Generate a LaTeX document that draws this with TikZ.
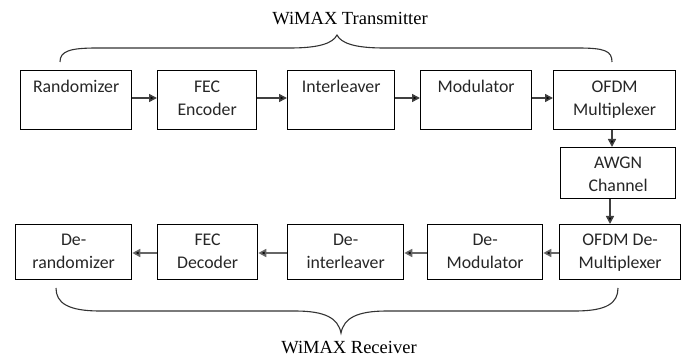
\documentclass[tikz,border=0pt]{standalone}
\usepackage{fontspec}
\setmainfont{Liberation Serif}
\newfontfamily\boxfont{Carlito}
\usetikzlibrary{arrows.meta,calc}
\begin{document}
\begin{tikzpicture}[x=1pt,y=-1pt,
  blk/.style={draw=black,line width=1.3pt,minimum width=#1,minimum height=57pt,inner sep=0pt,anchor=north west},
  txt/.style={font=\boxfont\fontsize{17.8}{23}\selectfont,text=black!85,align=center,anchor=base,inner sep=0pt},
  arr/.style={line width=1.6pt,draw=black!75,-{Triangle[length=8pt,width=8pt,fill=black]}},
  brc/.style={line width=1.1pt,draw=black!80},
  ttl/.style={font=\fontsize{18.5}{22}\selectfont,anchor=base,inner sep=0pt}]
\useasboundingbox (0,0) rectangle (689,358);
% top row
\node[blk=111pt,minimum height=59pt] (rand) at (20,70) {};
\node[blk=99pt,minimum height=59pt] (fec) at (157,70) {};
\node[blk=107pt,minimum height=59pt] (intl) at (287,70) {};
\node[blk=111pt,minimum height=59pt] (mod) at (420,70) {};
\node[blk=122pt,minimum height=59pt] (ofdm) at (553,70) {};
\node[txt] (randT) at ($(rand.north)+(0,23)$) {Randomizer};
\node[txt] (fecT) at ($(fec.north)+(0,46)$) {FEC\\Encoder};
\node[txt] (intlT) at ($(intl.north)+(0,23)$) {Interleaver};
\node[txt] (modT) at ($(mod.north)+(0,23)$) {Modulator};
\node[txt] (ofdmT) at ($(ofdm.north)+(0,46)$) {OFDM\\Multiplexer};
% channel
\node[blk=115pt,minimum height=51pt] (awgn) at (560,147) {};
\node[txt] (awgnT) at ($(awgn.north)+(0,45)$) {AWGN\\Channel};
% bottom row
\node[blk=116pt,minimum height=55pt] (derand) at (15,224) {};
\node[blk=100pt,minimum height=55pt] (fecd) at (157,224) {};
\node[blk=116pt,minimum height=55pt] (deintl) at (287,224) {};
\node[blk=115pt,minimum height=55pt] (demod) at (427,224) {};
\node[blk=121pt,minimum height=55pt] (ofdmd) at (559,224) {};
\node[txt] (derandT) at ($(derand.north)+(0,45)$) {De-\\randomizer};
\node[txt] (fecdT) at ($(fecd.north)+(0,45)$) {FEC\\Decoder};
\node[txt] (deintlT) at ($(deintl.north)+(0,45)$) {De-\\interleaver};
\node[txt] (demodT) at ($(demod.north)+(0,45)$) {De-\\Modulator};
\node[txt] (ofdmdT) at ($(ofdmd.north)+(0,45)$) {OFDM De-\\Multiplexer};
% arrows top
\coordinate (t) at (0,98);
\draw[arr] (rand.east |- t) -- (fec.west |- t);
\draw[arr] (fec.east |- t) -- (intl.west |- t);
\draw[arr] (intl.east |- t) -- (mod.west |- t);
\draw[arr] (mod.east |- t) -- (ofdm.west |- t);
% vertical
\coordinate (v1) at (612,0);
\coordinate (v2) at (610,0);
\draw[arr] (ofdm.south -| v1) -- (awgn.north -| v1);
\draw[arr] (awgn.south -| v2) -- (ofdmd.north -| v2);
% arrows bottom
\coordinate (b) at (0,253);
\draw[arr,draw=black!60] (ofdmd.west |- b) -- (demod.east |- b);
\draw[arr,draw=black!60] (demod.west |- b) -- (deintl.east |- b);
\draw[arr,draw=black!60] (deintl.west |- b) -- (fecd.east |- b);
\draw[arr,draw=black!60] (fecd.west |- b) -- (derand.east |- b);
% braces
\draw[brc] (60,62) .. controls (60,51) and (70,48) .. (97,48) -- (290,48)
  .. controls (320,48) and (333,43) .. (337,35)
  .. controls (341,43) and (354,48) .. (384,48) -- (578,48)
  .. controls (605,48) and (612,51) .. (612,62);
\draw[brc] (56,288) .. controls (56,303) and (68,311) .. (100,311) -- (295,311)
  .. controls (325,311) and (338,318) .. (341,333)
  .. controls (344,318) and (357,311) .. (387,311) -- (575,311)
  .. controls (607,311) and (618,303) .. (618,288);
\node[ttl] (tx) at (350,25) {WiMAX Transmitter};
\node[ttl] (rx) at (349,354) {WiMAX Receiver};
\end{tikzpicture}
\end{document}
